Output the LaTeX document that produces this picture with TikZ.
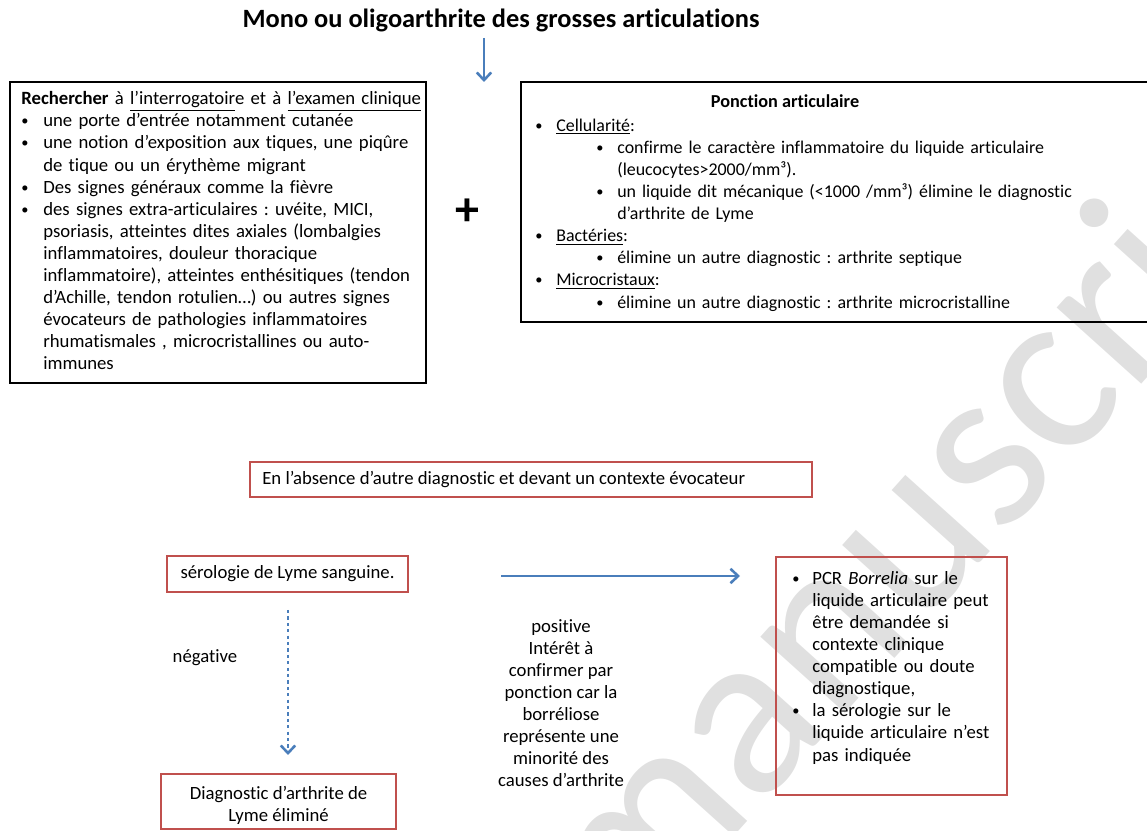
\documentclass[tikz,border=0pt]{standalone}
\usepackage{fontspec}
\setmainfont{Carlito}[Ligatures=NoCommon]
\usetikzlibrary{arrows.meta}
\definecolor{redb}{HTML}{C0504D}
\definecolor{blueb}{HTML}{4A7EBB}
\definecolor{wmark}{gray}{0.88}
\frenchspacing
\newcommand\nl{\hfil\break}
\newcommand\bul{{\fontsize{9}{9}\selectfont\raisebox{0.6pt}{\textbullet}}}
\newcommand\bitem[2][13.1pt]{\par\hangindent=#1\hangafter=1\noindent\strut\makebox[#1][l]{\bul}#2\par}
\newcommand\sitem[1]{\par\hangindent=51.25pt\hangafter=0\noindent\strut\hspace*{-13.1pt}\makebox[13.1pt][l]{\bul}#1\par}
\tikzset{
  x=0.625pt, y=-0.625pt,
  txt/.style={inner sep=0pt, font=\fontsize{11.7}{13.8}\selectfont},
  rtxt/.style={inner sep=0pt, font=\fontsize{11.2}{13.8}\selectfont},
  blackbox/.style={draw=black, line width=1.6pt, inner sep=0pt},
  redbox/.style={draw=redb, line width=1.7pt, inner sep=0pt},
  flow/.style={draw=blueb, line width=1.6pt, -{Straight Barb[length=4.8pt,width=9pt,line width=1.6pt]}},
  dotflow/.style={draw=blueb, line width=1.8pt, dash pattern=on 2pt off 2pt, -{Straight Barb[length=4.8pt,width=9pt,line width=1.6pt]}},
}
\begin{document}
\begin{tikzpicture}
\useasboundingbox (0,0) rectangle (1147,831);
% watermark
\begin{scope}
\clip (0,0) rectangle (1147,831);
\node[anchor=base west, inner sep=0pt, rotate=48, text=wmark, font=\fontsize{149}{150}\selectfont] (wm) at (630,952) {manuscript};
\end{scope}

% title
\node[txt, font=\bfseries\fontsize{16.5}{19}\selectfont] (title) at (501,20) {Mono ou oligoarthrite des grosses articulations};
\coordinate (ta) at (484,38);
\coordinate (tb) at (484,82);
\draw[flow] (ta) -- (tb);

% left box
\node[blackbox, minimum width=260pt, minimum height=188.1pt] (lbox) at (218,232.5) {};
\node[txt, anchor=north west, text width=300pt, align=left] (ltext) at (21,89) {\strut\textbf{Rechercher} à \underline{l’interrogatoir}e et à \underline{l’examen clinique}
\bitem[13.75pt]{une porte d’entrée notamment cutanée}
\bitem[13.75pt]{une notion d’exposition aux tiques, une piqûre\nl de tique ou un érythème migrant}
\bitem[13.75pt]{Des signes généraux comme la fièvre}
\bitem[13.75pt]{des signes extra-articulaires : uvéite, MICI,\nl psoriasis, atteintes dites axiales (lombalgies\nl inflammatoires, douleur thoracique\nl inflammatoire), atteintes enthésitiques (tendon\nl d’Achille, tendon rotulien…) ou autres signes\nl évocateurs de pathologies inflammatoires\nl rhumatismales , microcristallines ou auto-\nl immunes}};

% plus
\node[inner sep=0pt, font=\bfseries\fontsize{30}{30}\selectfont] (plus) at (467,212) {+};

% right box (runs past the right edge)
\node[blackbox, minimum width=399.4pt, minimum height=150pt] (rbox) at (840.5,202) {};
\node[rtxt, font=\bfseries\fontsize{11.4}{13.8}\selectfont] (rtitle) at (785,101) {Ponction articulaire};
\node[rtxt, anchor=north west, text width=400pt, align=left] (rtext) at (535,109) {%
\bitem{\underline{Cellularité}:}
\sitem{confirme le caractère inflammatoire du liquide articulaire\nl (leucocytes>2000/mm³).}
\sitem{un liquide dit mécanique (<1000 /mm³) élimine le diagnostic\nl d’arthrite de Lyme}
\bitem{\underline{Bactéries}:}
\sitem{élimine un autre diagnostic : arthrite septique}
\bitem{\underline{Microcristaux}:}
\sitem{élimine un autre diagnostic : arthrite microcristalline}};

% context box
\node[redbox, minimum width=351.25pt, minimum height=21.9pt] (ctx) at (531,479.5) {};
\node[txt, anchor=west] (ctxtext) at (262,479.5) {En l’absence d’autre diagnostic et devant un contexte évocateur};

% serologie
\node[redbox, minimum width=150.6pt, minimum height=22.5pt] (sero) at (287.5,574) {};
\node[txt] (serotext) at (sero.center) {sérologie de Lyme sanguine.};

% diagnostic eliminated
\node[redbox, minimum width=146.9pt, minimum height=34.4pt] (diag) at (278.5,801.5) {};
\node[txt, align=center] (diagtext) at (278.5,805) {Diagnostic d’arthrite de\\Lyme éliminé};

% negative
\coordinate (na) at (288,610);
\coordinate (nb) at (288,755);
\draw[dotflow] (na) -- (nb);
\node[txt] (neg) at (205,658) {négative};

% positive
\coordinate (pa) at (501,576);
\coordinate (pb) at (740,576);
\draw[flow] (pa) -- (pb);
\node[txt, align=center] (pos) at (561,703) {positive\\Intérêt à\\confirmer par\\ponction car la\\borréliose\\représente une\\minorité des\\causes d’arthrite};

% PCR box
\node[redbox, minimum width=144.4pt, minimum height=148.75pt] (pcr) at (891.5,676) {};
\node[txt, anchor=north west, text width=200pt, align=left] (pcrtext) at (792,562) {%
\bitem[12.5pt]{PCR \textit{Borrelia} sur le\nl liquide articulaire peut\nl être demandée si\nl contexte clinique\nl compatible ou doute\nl diagnostique,}
\bitem[12.5pt]{la sérologie sur le\nl liquide articulaire n’est\nl pas indiquée}};
\end{tikzpicture}
\end{document}
